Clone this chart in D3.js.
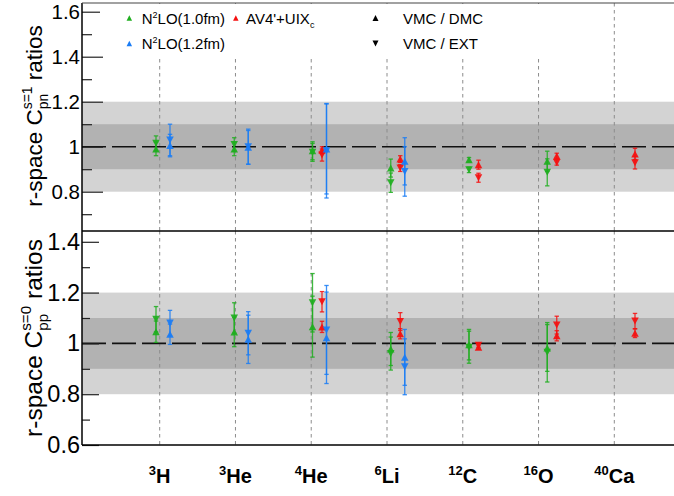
<!DOCTYPE html>
<html>
<head>
<meta charset="utf-8">
<script src="https://cdn.jsdelivr.net/npm/d3@7/dist/d3.min.js"></script>
<style>
  body { margin: 0; background: #fff; }
  svg { display: block; }
  text { font-family: "Liberation Sans", Arial, Helvetica, sans-serif; fill: #000; }
</style>
</head>
<body>
<svg id="chart" width="674" height="496"></svg>
<script>
// ---- nuclei along the x axis ----
const nuclei       = ["3H", "3He", "4He", "6Li", "12C", "16O", "40Ca"];
const massNumbers  = ["3", "3", "4", "6", "12", "16", "40"];
const elementNames = ["H", "He", "He", "Li", "C", "O", "Ca"];

// ---- pn, S=1 ratios (VMC/DMC = up triangle, VMC/EXT = down triangle) ----
const pnDmcN2lo10    = [0.990, 0.990, 0.982, 0.905, 0.942, 0.935, null];
const pnDmcN2lo10Err = [0.030, 0.030, 0.040, 0.040, 0.010, 0.045, null];
const pnExtN2lo10    = [1.015, 1.010, 0.975, 0.840, 0.897, 0.886, null];
const pnExtN2lo10Err = [0.033, 0.030, 0.040, 0.043, 0.012, 0.060, null];

const pnDmcN2lo12    = [1.005, 0.997, 0.990, 0.935, null, null, null];
const pnDmcN2lo12Err = [0.050, 0.075, 0.200, 0.105, null, null, null];
const pnExtN2lo12    = [1.030, 1.000, 0.982, 0.890, null, null, null];
const pnExtN2lo12Err = [0.070, 0.078, 0.210, 0.110, null, null, null];

const pnDmcAv4       = [null, null, 0.985, 0.945, 0.920, 0.959, 0.968];
const pnDmcAv4Err    = [null, null, 0.015, 0.015, 0.020, 0.012, 0.025];
const pnExtAv4       = [null, null, 0.963, 0.905, 0.862, 0.930, 0.929];
const pnExtAv4Err    = [null, null, 0.027, 0.015, 0.020, 0.012, 0.028];

// ---- pp, S=0 ratios ----
const ppDmcN2lo10    = [1.046, 1.045, 1.066, 0.978, 0.995, 0.982, null];
const ppDmcN2lo10Err = [0.042, 0.058, 0.120, 0.065, 0.060, 0.092, null];
const ppExtN2lo10    = [1.095, 1.100, 1.160, 0.960, 0.985, 0.965, null];
const ppExtN2lo10Err = [0.050, 0.060, 0.115, 0.065, 0.063, 0.117, null];

const ppDmcN2lo12    = [1.036, 1.016, 1.022, 0.945, null, null, null];
const ppDmcN2lo12Err = [0.040, 0.095, 0.180, 0.110, null, null, null];
const ppExtN2lo12    = [1.080, 1.040, 1.053, 0.908, null, null, null];
const ppExtN2lo12Err = [0.050, 0.085, 0.175, 0.110, null, null, null];

const ppDmcAv4       = [null, null, 1.065, 1.038, 0.985, 1.030, 1.040];
const ppDmcAv4Err    = [null, null, 0.022, 0.020, 0.008, 0.020, 0.017];
const ppExtAv4       = [null, null, 1.164, 1.086, 0.993, 1.072, 1.088];
const ppExtAv4Err    = [null, null, 0.040, 0.035, 0.008, 0.035, 0.030];

// ---- bands and ticks ----
const outerBand = [0.8, 1.2];
const innerBand = [0.9, 1.1];
const pnMajorTicks = [0.8, 1.0, 1.2, 1.4, 1.6];
const pnMinorTicks = [0.7, 0.9, 1.1, 1.3, 1.5];
const ppMajorTicks = [0.6, 0.8, 1.0, 1.2, 1.4];
const ppMinorTicks = [0.7, 0.9, 1.1, 1.3];

// ---- layout ----
const L = 82, R = 674;
const topPanel = { y0: 3,   y1: 231, domain: [0.6253, 1.6387] };
const botPanel = { y0: 231, y1: 445, domain: [0.6, 1.4425] };

const GREEN = "#1fae1f", BLUE = "#1a7cf5", RED = "#f50f0f";

const svg = d3.select("#chart");

// gridlines/labels sit on one set of positions, markers on a slightly wider one
const xGrid = d3.scalePoint().domain(nuclei).range([159.7, 614.3]);
const xData = d3.scalePoint().domain(nuclei).range([156, 625.5]);
const seriesShift = { n2lo10: 0, av4: 9.5, n2lo12: 14 };

function trianglePath(cx, cy, w, h, up) {
  const s = up ? 1 : -1;
  return `M${cx - w / 2},${cy + s * h / 2}L${cx + w / 2},${cy + s * h / 2}L${cx},${cy - s * h / 2}Z`;
}

function drawPanel(p, seriesList, majorTicks, minorTicks, labelSize, tickLen, minorLen) {
  const y = d3.scaleLinear().domain(p.domain).range([p.y1, p.y0]);
  const g = svg.append("g");

  // shaded bands
  g.append("rect").attr("x", L).attr("width", R - L)
    .attr("y", y(outerBand[1])).attr("height", y(outerBand[0]) - y(outerBand[1]))
    .attr("fill", "#d3d3d3");
  g.append("rect").attr("x", L).attr("width", R - L)
    .attr("y", y(innerBand[1])).attr("height", y(innerBand[0]) - y(innerBand[1]))
    .attr("fill", "#b2b2b2");

  // vertical dashed gridlines at each nucleus
  g.selectAll(".grid").data(nuclei).join("line")
    .attr("x1", d => xGrid(d)).attr("x2", d => xGrid(d))
    .attr("y1", p.y0).attr("y2", p.y1)
    .attr("stroke", "#8c8c8c").attr("stroke-width", 1)
    .attr("stroke-dasharray", "3.5,3.5");

  // reference line at ratio 1
  g.append("line").attr("x1", L).attr("x2", R)
    .attr("y1", y(1)).attr("y2", y(1))
    .attr("stroke", "#111").attr("stroke-width", 1.6)
    .attr("stroke-dasharray", "24,6");

  // y axis: major and minor ticks drawn inside the frame
  const major = d3.axisLeft(y).tickValues(majorTicks).tickSizeInner(-tickLen).tickSizeOuter(0)
    .tickPadding(2).tickFormat(d => String(+d.toFixed(1)));
  const minor = d3.axisLeft(y).tickValues(minorTicks).tickSizeInner(-minorLen).tickSizeOuter(0)
    .tickFormat("");
  const ga = g.append("g").attr("transform", `translate(${L},0)`).call(major);
  ga.select(".domain").remove();
  ga.selectAll("line").attr("stroke", "#222").attr("stroke-width", 1.2);
  ga.selectAll("text").style("font-size", labelSize + "px")
    .style("font-family", "'Liberation Sans', Arial, sans-serif").attr("fill", "#000");
  const gm = g.append("g").attr("transform", `translate(${L},0)`).call(minor);
  gm.select(".domain").remove();
  gm.selectAll("line").attr("stroke", "#222").attr("stroke-width", 1.2);

  // data: error bars and triangle markers
  seriesList.forEach(s => {
    const ds = seriesShift[s.key];
    [[s.dmc, s.dmcErr, true], [s.ext, s.extErr, false]].forEach(([vals, errs, up]) => {
      vals.forEach((v, i) => {
        if (v == null) return;
        const cx = xData(nuclei[i]) + ds;
        const e = errs[i];
        const gg = g.append("g");
        gg.append("line").attr("x1", cx).attr("x2", cx)
          .attr("y1", y(v + e)).attr("y2", y(v - e))
          .attr("stroke", s.color).attr("stroke-width", 1.3).attr("stroke-opacity", 0.85);
        [v + e, v - e].forEach(ev => {
          gg.append("line").attr("x1", cx - 2.2).attr("x2", cx + 2.2)
            .attr("y1", y(ev)).attr("y2", y(ev))
            .attr("stroke", s.color).attr("stroke-width", 1.3).attr("stroke-opacity", 0.85);
        });
        gg.append("path").attr("d", trianglePath(cx, y(v), 7.5, 7, up))
          .attr("fill", s.color).attr("fill-opacity", 0.92);
      });
    });
  });
  return y;
}

drawPanel(topPanel, [
  { key: "n2lo10", color: GREEN, dmc: pnDmcN2lo10, dmcErr: pnDmcN2lo10Err, ext: pnExtN2lo10, extErr: pnExtN2lo10Err },
  { key: "av4",    color: RED,   dmc: pnDmcAv4,    dmcErr: pnDmcAv4Err,    ext: pnExtAv4,    extErr: pnExtAv4Err },
  { key: "n2lo12", color: BLUE,  dmc: pnDmcN2lo12, dmcErr: pnDmcN2lo12Err, ext: pnExtN2lo12, extErr: pnExtN2lo12Err }
], pnMajorTicks, pnMinorTicks, 20.5, 21, 10);

drawPanel(botPanel, [
  { key: "n2lo10", color: GREEN, dmc: ppDmcN2lo10, dmcErr: ppDmcN2lo10Err, ext: ppExtN2lo10, extErr: ppExtN2lo10Err },
  { key: "av4",    color: RED,   dmc: ppDmcAv4,    dmcErr: ppDmcAv4Err,    ext: ppExtAv4,    extErr: ppExtAv4Err },
  { key: "n2lo12", color: BLUE,  dmc: ppDmcN2lo12, dmcErr: ppDmcN2lo12Err, ext: ppExtN2lo12, extErr: ppExtN2lo12Err }
], ppMajorTicks, ppMinorTicks, 23.5, 17, 8);

// frame lines
const frame = svg.append("g").attr("stroke", "#000").attr("stroke-width", 1.5);
frame.append("line").attr("x1", L).attr("x2", L).attr("y1", topPanel.y0).attr("y2", botPanel.y1);
frame.append("line").attr("x1", L).attr("x2", R).attr("y1", botPanel.y1).attr("y2", botPanel.y1);
frame.append("line").attr("x1", L).attr("x2", R).attr("y1", topPanel.y1).attr("y2", topPanel.y1);
frame.append("line").attr("x1", L).attr("x2", R).attr("y1", topPanel.y0).attr("y2", topPanel.y0)
  .attr("stroke", "#444").attr("stroke-width", 1.2);

// legend box (white fill over gridlines)
const lg = svg.append("g");
lg.append("rect").attr("x", 100).attr("y", topPanel.y0 + 1).attr("width", 500).attr("height", 52).attr("fill", "#fff");
const legendMarkers = [
  { x: 129.3, y: 18,   color: GREEN, up: true,  s: 5.5 },
  { x: 129.3, y: 43.5, color: BLUE,  up: true,  s: 5.5 },
  { x: 235.8, y: 18,   color: RED,   up: true,  s: 5.5 },
  { x: 375.5, y: 18,   color: "#000", up: true,  s: 6 },
  { x: 375.5, y: 43.5, color: "#000", up: false, s: 6 }
];
lg.selectAll(".lm").data(legendMarkers).join("path")
  .attr("d", d => trianglePath(d.x, d.y, d.s, d.s, d.up)).attr("fill", d => d.color);

function legendText(x, y, parts) {
  const t = lg.append("text").attr("x", x).attr("y", y).style("font-size", "15px");
  parts.forEach(([txt, kind]) => {
    const ts = t.append("tspan").text(txt);
    if (kind === "sup") ts.style("font-size", "9px").attr("dy", -6);
    else if (kind === "sub") ts.style("font-size", "9px").attr("dy", 4);
    else if (kind === "afterSup") ts.attr("dy", 6);
  });
}
legendText(141.7, 24,   [["N"], ["2", "sup"], ["LO(1.0fm)", "afterSup"]]);
legendText(141.7, 49.3, [["N"], ["2", "sup"], ["LO(1.2fm)", "afterSup"]]);
legendText(246, 24,     [["AV4'+UIX"], ["c", "sub"]]);
legendText(403, 24,     [["VMC / DMC"]]);
legendText(403, 49.3,   [["VMC / EXT"]]);

// y-axis titles with stacked super/subscript
function yTitle(cx, cy, size, sup, sub) {
  const t = svg.append("text").attr("transform", `translate(${cx},${cy}) rotate(-90)`)
    .attr("text-anchor", "middle").style("font-size", size + "px");
  t.append("tspan").text("r-space C");
  const supT = t.append("tspan").attr("dy", -0.42 * size).style("font-size", (0.62 * size) + "px").text(sup);
  const subT = t.append("tspan").style("font-size", (0.62 * size) + "px").text(sub);
  const rest = t.append("tspan").text(" ratios");
  const ws = supT.node().getComputedTextLength();
  const wb = subT.node().getComputedTextLength();
  subT.attr("dx", -ws).attr("dy", 0.42 * size + 0.28 * size);
  rest.attr("dx", Math.max(0, ws - wb)).attr("dy", -0.28 * size);
}
yTitle(41.5, 116, 22.5, "s=1", "pn");
yTitle(41.5, 338, 24.5, "s=0", "pp");

// x-axis nucleus labels
const xl = svg.append("g");
nuclei.forEach((n, i) => {
  const t = xl.append("text").attr("x", xGrid(n)).attr("y", 483)
    .attr("text-anchor", "middle").style("font-size", "20px").style("font-weight", "bold");
  t.append("tspan").text(massNumbers[i]).style("font-size", "13px").attr("dy", -8);
  t.append("tspan").text(elementNames[i]).attr("dy", 8);
});
</script>
</body>
</html>
